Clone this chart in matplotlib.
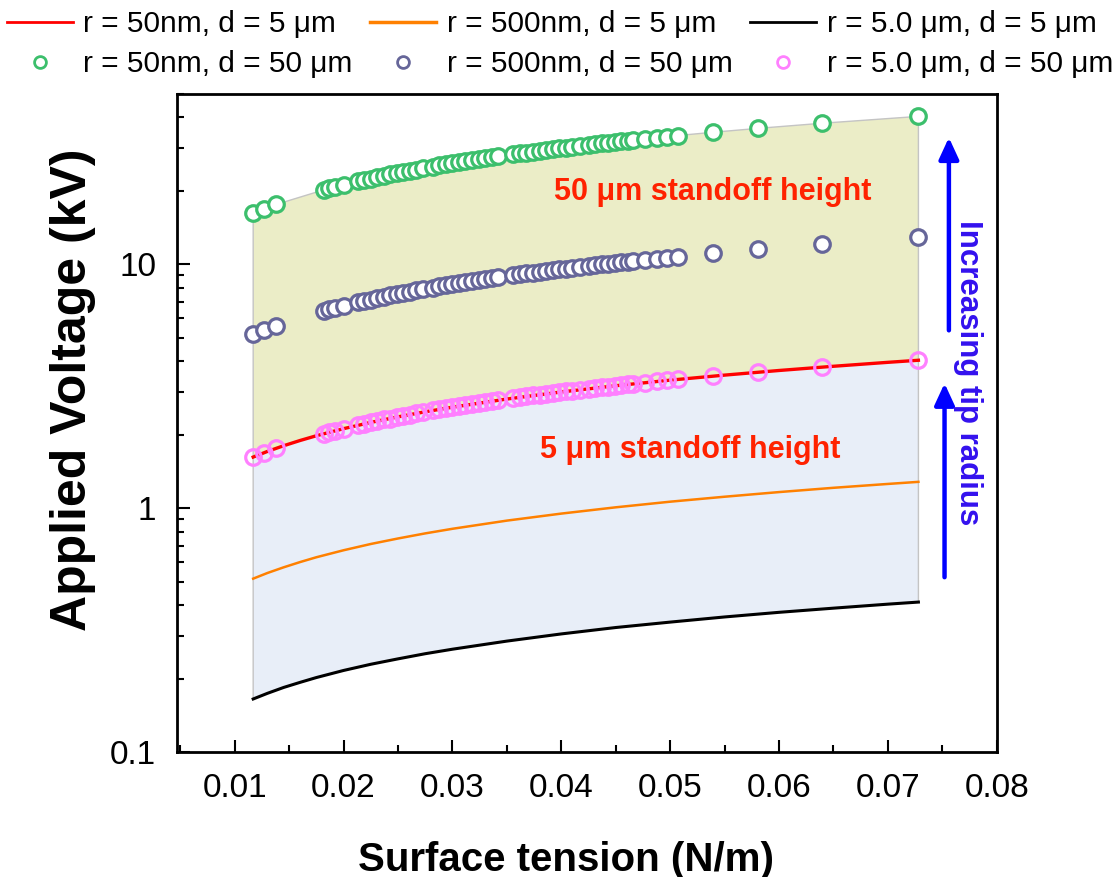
import numpy as np
import matplotlib
matplotlib.use("Agg")
import matplotlib.pyplot as plt
from matplotlib.lines import Line2D

plt.rcParams['font.family'] = ['Liberation Sans', 'DejaVu Sans']

# smooth model curves, d = 5 um
gam_line = [0.0117, 0.013, 0.0145, 0.016, 0.0175, 0.02, 0.0225, 0.025, 0.0275, 0.03,
            0.035, 0.04, 0.045, 0.05, 0.055, 0.06, 0.065, 0.07, 0.0728]
v_red = [1.620, 1.708, 1.803, 1.894, 1.981, 2.118, 2.247, 2.368, 2.484, 2.594,
         2.802, 2.995, 3.177, 3.349, 3.512, 3.669, 3.818, 3.963, 4.041]
v_orange = [0.514, 0.542, 0.572, 0.601, 0.629, 0.672, 0.713, 0.751, 0.788, 0.823,
            0.889, 0.950, 1.008, 1.063, 1.114, 1.164, 1.212, 1.257, 1.282]
v_black = [0.165, 0.174, 0.184, 0.193, 0.202, 0.216, 0.229, 0.241, 0.253, 0.264,
           0.285, 0.305, 0.324, 0.341, 0.358, 0.374, 0.389, 0.404, 0.412]

# liquids, d = 50 um
gam_pts = [0.0117, 0.0127, 0.0138, 0.0182, 0.0187, 0.0192, 0.0200, 0.0213, 0.0219, 0.0225,
           0.0231, 0.0237, 0.0243, 0.0249, 0.0255, 0.0261, 0.0267, 0.0273, 0.0282, 0.0288,
           0.0294, 0.0300, 0.0306, 0.0312, 0.0318, 0.0324, 0.0330, 0.0336, 0.0342, 0.0356,
           0.0362, 0.0368, 0.0374, 0.0380, 0.0386, 0.0392, 0.0398, 0.0404, 0.0410, 0.0417,
           0.0425, 0.0431, 0.0437, 0.0443, 0.0449, 0.0455, 0.0461, 0.0466, 0.0477, 0.0488,
           0.0497, 0.0507, 0.0539, 0.0581, 0.0639, 0.0728]
v_green = [16.20, 16.88, 17.59, 20.20, 20.48, 20.75, 21.18, 21.86, 22.16, 22.47,
           22.76, 23.06, 23.35, 23.63, 23.92, 24.20, 24.47, 24.75, 25.15, 25.42,
           25.68, 25.94, 26.20, 26.45, 26.71, 26.96, 27.21, 27.45, 27.70, 28.26,
           28.50, 28.73, 28.96, 29.20, 29.43, 29.65, 29.88, 30.10, 30.33, 30.58,
           30.88, 31.09, 31.31, 31.52, 31.74, 31.95, 32.16, 32.33, 32.71, 33.09,
           33.39, 33.72, 34.77, 36.10, 37.86, 40.41]
v_slate = [5.17, 5.39, 5.61, 6.45, 6.54, 6.62, 6.76, 6.98, 7.07, 7.17,
           7.26, 7.36, 7.45, 7.54, 7.63, 7.72, 7.81, 7.90, 8.03, 8.11,
           8.20, 8.28, 8.36, 8.44, 8.52, 8.60, 8.68, 8.76, 8.84, 9.02,
           9.09, 9.17, 9.24, 9.32, 9.39, 9.46, 9.54, 9.61, 9.68, 9.76,
           9.85, 9.92, 9.99, 10.06, 10.13, 10.20, 10.26, 10.32, 10.44, 10.56,
           10.66, 10.76, 11.10, 11.52, 12.08, 12.90]
v_pink = [1.62, 1.69, 1.76, 2.02, 2.05, 2.08, 2.12, 2.19, 2.22, 2.25,
          2.28, 2.31, 2.33, 2.36, 2.39, 2.42, 2.45, 2.47, 2.52, 2.54,
          2.57, 2.59, 2.62, 2.65, 2.67, 2.70, 2.72, 2.75, 2.77, 2.83,
          2.85, 2.87, 2.90, 2.92, 2.94, 2.97, 2.99, 3.01, 3.03, 3.06,
          3.09, 3.11, 3.13, 3.15, 3.17, 3.19, 3.22, 3.23, 3.27, 3.31,
          3.34, 3.37, 3.48, 3.61, 3.79, 4.04]

labels = ["r = 50nm, d = 5 μm", "r = 500nm, d = 5 μm", "r = 5.0 μm, d = 5 μm",
          "r = 50nm, d = 50 μm", "r = 500nm, d = 50 μm", "r = 5.0 μm, d = 50 μm"]

c_red, c_orange, c_black = '#ff0000', '#ff8000', '#000000'
c_green, c_slate, c_pink = '#3cbf6c', '#666699', '#ff80ff'

fig = plt.figure(figsize=(11.2, 8.77), dpi=100)
ax = fig.add_axes([0.158, 0.1425, 0.732, 0.7505])

# shaded bands
ax.fill(list(gam_pts) + gam_line[::-1], list(v_green) + v_red[::-1],
        facecolor='#ebedc7', edgecolor='#c4c4c4', lw=1, zorder=1)
ax.fill(gam_line + gam_line[::-1], v_red + v_black[::-1],
        facecolor='#e8eef8', edgecolor='#c4c4c4', lw=1, zorder=1)

ax.plot(gam_line, v_red, color=c_red, lw=2.4, zorder=3)
ax.plot(gam_line, v_orange, color=c_orange, lw=1.8, zorder=3)
ax.plot(gam_line, v_black, color=c_black, lw=2.2, zorder=3)

mk = dict(marker='o', ls='none', ms=11.2, mew=2.3)
ax.plot(gam_pts, v_green, mec=c_green, mfc='white', zorder=4, **mk)
ax.plot(gam_pts, v_slate, mec=c_slate, mfc='white', zorder=4, **mk)
ax.plot(gam_pts, v_pink, mec=c_pink, mfc='none', zorder=4, **mk)

ax.set_yscale('log')
ax.set_xlim(0.0047, 0.08)
ax.set_ylim(0.1, 50)
ax.set_xticks([0.01, 0.02, 0.03, 0.04, 0.05, 0.06, 0.07, 0.08])
ax.set_xticklabels(['0.01', '0.02', '0.03', '0.04', '0.05', '0.06', '0.07', '0.08'])
ax.set_xticks(np.arange(0.005, 0.08, 0.01), minor=True)
ax.set_yticks([0.1, 1, 10])
ax.set_yticklabels(['0.1', '1', '10'])
ax.tick_params(which='both', direction='in', top=False, right=False, width=1.5, labelsize=24)
ax.tick_params(which='major', length=9, pad=15)
ax.tick_params(which='minor', length=5)
ax.tick_params(axis='y', which='minor', labelleft=False)
for s in ax.spines.values():
    s.set_linewidth(2)

ax.set_xlabel('Surface tension (N/m)', fontsize=29, fontweight='bold')
ax.xaxis.set_label_coords(0.475, -0.135)
ax.set_ylabel('Applied Voltage (kV)', fontsize=36, fontweight='bold')
ax.yaxis.set_label_coords(-0.099, 0.55)

ax.text(0.0539, 19.7, '50 μm standoff height', color='#ff2200', fontsize=22,
        fontweight='bold', ha='center', va='center', zorder=5)
ax.text(0.0518, 1.73, '5 μm standoff height', color='#ff2200', fontsize=22,
        fontweight='bold', ha='center', va='center', zorder=5)

arr = dict(arrowstyle='-|>,head_length=0.65,head_width=0.3', color='#0000ff', lw=3.2,
           mutation_scale=20, shrinkA=0, shrinkB=0)
ax.annotate('', xy=(0.0756, 33.1), xytext=(0.0756, 5.36), arrowprops=arr)
ax.annotate('', xy=(0.0752, 3.25), xytext=(0.0752, 0.521), arrowprops=arr)
ax.text(0.0774, 3.61, 'Increasing tip radius', color='#3311ee', fontsize=22.5,
        fontweight='bold', rotation=-90, ha='center', va='center')

handles = [Line2D([], [], color=c_red, lw=2),
           Line2D([], [], color=c_green, mfc='none', ls='none', marker='o', ms=8.5, mew=2),
           Line2D([], [], color=c_orange, lw=2.5),
           Line2D([], [], color=c_slate, mfc='none', ls='none', marker='o', ms=8.5, mew=2),
           Line2D([], [], color=c_black, lw=2),
           Line2D([], [], color=c_pink, mfc='none', ls='none', marker='o', ms=8.5, mew=2)]
hl = [labels[0], labels[3], labels[1], labels[4], labels[2], labels[5]]
fig.legend(handles, hl, ncol=3, loc='upper center', bbox_to_anchor=(0.5, 1.0),
           frameon=False, fontsize=21.5, handlelength=2.2, handletextpad=0.35,
           columnspacing=0.6, labelspacing=0.4, borderaxespad=0.1, borderpad=0.25)

fig.savefig('out.png', dpi=100)
